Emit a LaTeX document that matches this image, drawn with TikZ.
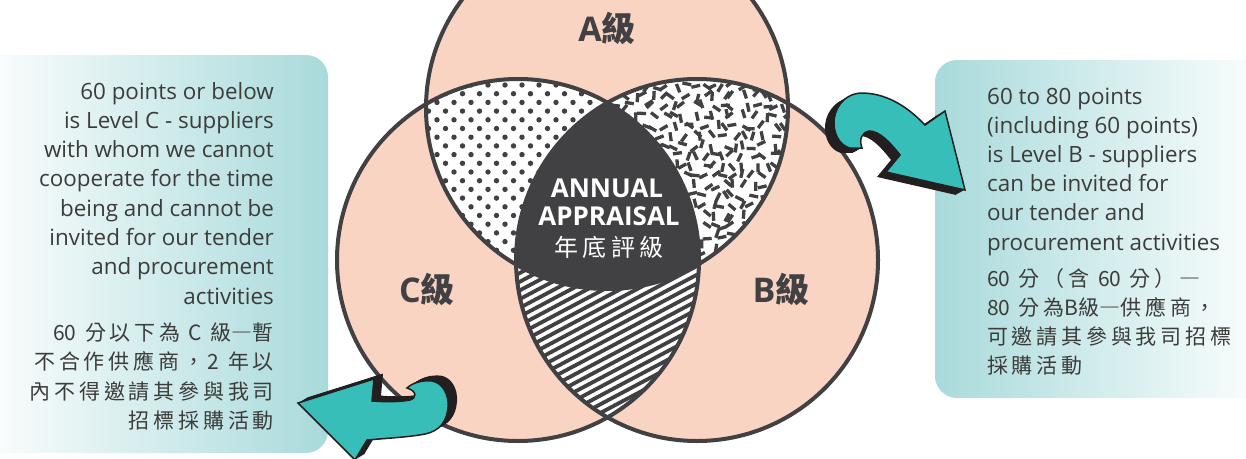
\documentclass[tikz,border=0pt]{standalone}
\usepackage{fontspec}
\setmainfont{Open Sans}
\newfontfamily\cjk{Noto Sans CJK TC}
\newfontfamily\cjksp[LetterSpace=18]{Noto Sans CJK TC}
\definecolor{ink}{HTML}{414042}
\definecolor{peach}{HTML}{F9D4C3}
\definecolor{boxteal}{HTML}{A9DADB}
\definecolor{arrteal}{HTML}{38BEB9}
\definecolor{arrblack}{HTML}{231F20}
\definecolor{txt}{HTML}{3C3C3B}
\begin{document}
\begin{tikzpicture}[x=1pt,y=-1pt,
  ring/.style={draw=ink, line width=4pt},
  dotfill/.style={fill=ink},
  dashline/.style={draw=ink, line width=3.3pt},
  stripeline/.style={draw=ink, line width=3.8pt},
  engtext/.style={font=\fontsize{22.4}{26}\selectfont, text=txt, inner sep=0pt},
  cjktext/.style={font=\cjksp\fontsize{21}{24}\selectfont, text=txt, inner sep=0pt},
  vennlabel/.style={font=\bfseries\fontsize{34}{36}\selectfont, text=ink, inner sep=0pt},
  centertext/.style={font=\bfseries\fontsize{26}{28}\selectfont, text=white, inner sep=0pt},
  arrowbody/.style={fill=arrteal, draw=arrblack, line width=1.5pt, line join=miter},
  arrowshade/.style={fill=arrblack}]
\useasboundingbox (0,0) rectangle (1246,458);

% side boxes
\shade[left color=white, right color=boxteal, rounded corners=22pt] (-30,55) rectangle (328,453);
\shade[left color=boxteal, right color=white, rounded corners=22pt] (935,60) rectangle (1276,398);

% circles
\coordinate (cA) at (607,108);
\coordinate (cC) at (518,260);
\coordinate (cB) at (697,260);
\fill[peach] (cA) circle (181pt);
\fill[peach] (cB) circle (181pt);
\fill[peach] (cC) circle (181pt);

% A and C : dots
\begin{scope}
  \clip (cA) circle (181pt);
  \clip (cC) circle (181pt);
  \fill[white] (cA) circle (181pt);
  \foreach \j in {0,...,24} {
    \foreach \i in {0,...,12} {
      \fill[dotfill] ({420+8.5*mod(\j,2)+17*\i}, {85+8.7*\j}) circle (2.7pt);
    }
  }
\end{scope}

% A and B : random dashes
\begin{scope}
  \clip (cA) circle (181pt);
  \clip (cB) circle (181pt);
  \fill[white] (cA) circle (181pt);
  \pgfmathsetseed{11}
  \foreach \j in {0,...,19} {
    \foreach \i in {0,...,19} {
      \pgfmathsetmacro\px{604+10*\i+5*rand}
      \pgfmathsetmacro\py{86+10*\j+3*rand}
      \pgfmathsetmacro\an{180*rnd}
      \draw[dashline, shift={(\px,\py)}, rotate=\an] (-4.5,0) -- (4.5,0);
    }
  }
\end{scope}

% B and C : stripes
\begin{scope}
  \clip (cB) circle (181pt);
  \clip (cC) circle (181pt);
  \fill[white] (cB) circle (181pt);
  \foreach \k in {0,...,38} {
    \draw[stripeline] (500,{240+8.7*\k}) -- ++(230,-122);
  }
\end{scope}

% A and B and C : dark
\begin{scope}
  \clip (cA) circle (181pt);
  \clip (cB) circle (181pt);
  \fill[ink] (cC) circle (181pt);
\end{scope}

% outlines
\draw[ring] (cA) circle (181pt);
\draw[ring] (cB) circle (181pt);
\draw[ring] (cC) circle (181pt);

% upper right arrow
\foreach \k in {1,...,9} {
  \fill[arrowshade, xshift=-\k pt, yshift={-0.55pt*\k}]
    (965,190) -- (945,111) -- (925,125)
    .. controls (905,104) and (884,93) .. (861,93)
    .. controls (843,94) and (833,110) .. (834,125)
    .. controls (835,138) and (842,146) .. (850,148)
    -- (862,148)
    .. controls (859,140) and (861,133) .. (869,131)
    .. controls (879,131) and (889,141) .. (900,155)
    -- (886,172) -- cycle;
}
\draw[arrowbody]
    (965,190) -- (945,111) -- (925,125)
    .. controls (905,104) and (884,93) .. (861,93)
    .. controls (843,94) and (833,110) .. (834,125)
    .. controls (835,138) and (842,146) .. (850,148)
    -- (862,148)
    .. controls (859,140) and (861,133) .. (869,131)
    .. controls (879,131) and (889,141) .. (900,155)
    -- (886,172) -- cycle;

% lower left arrow
\foreach \k in {1,...,9} {
  \fill[arrowshade, xshift=\k pt, yshift={0.6pt*\k}]
    (298,403) -- (374,379) -- (372,401)
    .. controls (385,402) and (400,402) .. (410,400)
    .. controls (417,398) and (417,391) .. (407,388)
    .. controls (412,383) and (422,380) .. (432,381)
    .. controls (443,383) and (449,395) .. (448,407)
    .. controls (447,421) and (440,431) .. (425,434)
    .. controls (410,437) and (390,438) .. (367,440)
    -- (355,460) -- cycle;
}
\draw[arrowbody]
    (298,403) -- (374,379) -- (372,401)
    .. controls (385,402) and (400,402) .. (410,400)
    .. controls (417,398) and (417,391) .. (407,388)
    .. controls (412,383) and (422,380) .. (432,381)
    .. controls (443,383) and (449,395) .. (448,407)
    .. controls (447,421) and (440,431) .. (425,434)
    .. controls (410,437) and (390,438) .. (367,440)
    -- (355,460) -- cycle;

% venn labels
\node[vennlabel] (lA) at (607,28) {A{\cjk 級}};
\node[vennlabel] (lC) at (427,289) {C{\cjk 級}};
\node[vennlabel] (lB) at (781,289) {B{\cjk 級}};

% centre text
\node[centertext, anchor=base] (ann1) at (607,197) {ANNUAL};
\node[centertext, anchor=base] (ann2) at (609,225) {APPRAISAL};
\node[font=\cjksp\fontsize{24}{26}\selectfont, text=white, inner sep=0pt, anchor=base] (ann3) at (609,256) {年底評級};

% left text
\foreach \t [count=\i] in {{60 points or below},{is Level C - suppliers},{with whom we cannot},{cooperate for the time},{being and cannot be},{invited for our tender},{and procurement},{activities}} {
  \node[engtext, anchor=base east] (le\i) at (274,{99+29.3*(\i-1)}) {\t};
}
\foreach \t [count=\i] in {{{\cjk 60} 分以下為 C 級{\cjk ―}暫},{不合作供應商，2 年以},{內不得邀請其參與我司},{招標採購活動}} {
  \node[cjktext, anchor=base east] (lc\i) at (274,{340+29.5*(\i-1)}) {\t};
}

% right text
\foreach \t [count=\i] in {{60 to 80 points},{(including 60 points)},{is Level B - suppliers},{can be invited for},{our tender and},{procurement activities}} {
  \node[engtext, anchor=base west] (re\i) at (987,{104+29.2*(\i-1)}) {\t};
}
\foreach \t [count=\i] in {{{\cjk 60} 分（含 {\cjk 60} 分）―},{{\cjk 80} 分為{\cjk B級―}供應商，},{可邀請其參與我司招標},{採購活動}} {
  \node[cjktext, anchor=base west] (rc\i) at (987,{286+29.2*(\i-1)}) {\t};
}
\end{tikzpicture}
\end{document}
